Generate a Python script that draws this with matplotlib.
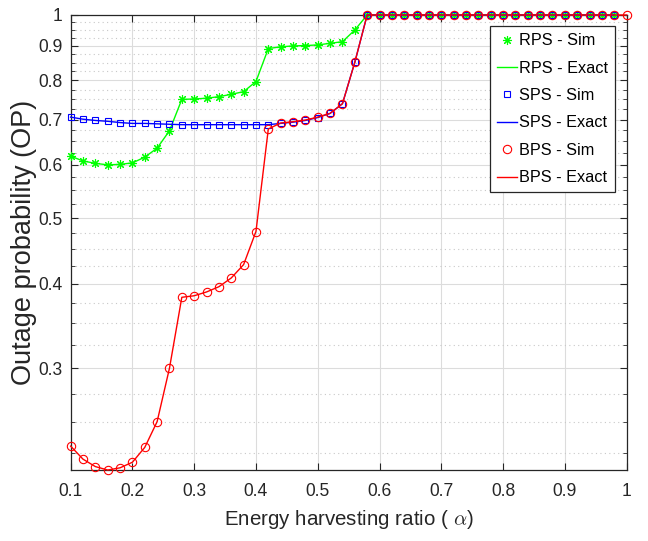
import numpy as np
import matplotlib
matplotlib.use("Agg")
import matplotlib.pyplot as plt
from matplotlib import font_manager
from matplotlib.ticker import FixedLocator, NullFormatter

# energy harvesting ratio grid
alpha = [0.10, 0.12, 0.14, 0.16, 0.18, 0.20, 0.22, 0.24, 0.26, 0.28,
         0.30, 0.32, 0.34, 0.36, 0.38, 0.40, 0.42, 0.44, 0.46, 0.48,
         0.50, 0.52, 0.54, 0.56, 0.58, 0.60, 0.62, 0.64, 0.66, 0.68,
         0.70, 0.72, 0.74, 0.76, 0.78, 0.80, 0.82, 0.84, 0.86, 0.88,
         0.90, 0.92, 0.94, 0.96, 0.98, 1.00]

op_rps = [0.618, 0.608, 0.603, 0.600, 0.601, 0.604, 0.616, 0.635, 0.674, 0.750,
          0.751, 0.753, 0.757, 0.763, 0.770, 0.797, 0.892, 0.897, 0.900, 0.901,
          0.903, 0.908, 0.913, 0.950, 1, 1, 1, 1, 1, 1,
          1, 1, 1, 1, 1, 1, 1, 1, 1, 1,
          1, 1, 1, 1, 1]

op_sps = [0.706, 0.701, 0.698, 0.696, 0.693, 0.691, 0.691, 0.690, 0.689, 0.688,
          0.688, 0.688, 0.688, 0.688, 0.688, 0.688, 0.688, 0.691, 0.694, 0.698,
          0.705, 0.715, 0.739, 0.851, 1, 1, 1, 1, 1, 1,
          1, 1, 1, 1, 1, 1, 1, 1, 1, 1,
          1, 1, 1, 1, 1]

op_bps = [0.230, 0.220, 0.2145, 0.212, 0.2136, 0.2177, 0.229, 0.250, 0.300, 0.382,
          0.384, 0.389, 0.396, 0.408, 0.427, 0.478, 0.678, 0.692, 0.695, 0.699,
          0.706, 0.715, 0.739, 0.851, 1, 1, 1, 1, 1, 1,
          1, 1, 1, 1, 1, 1, 1, 1, 1, 1,
          1, 1, 1, 1, 1, 1]

yticks = [0.3, 0.4, 0.5, 0.6, 0.7, 0.8, 0.9, 1]
ytick_labels = ["0.3", "0.4", "0.5", "0.6", "0.7", "0.8", "0.9", "1"]
xticks = [0.1, 0.2, 0.3, 0.4, 0.5, 0.6, 0.7, 0.8, 0.9, 1]
xtick_labels = ["0.1", "0.2", "0.3", "0.4", "0.5", "0.6", "0.7", "0.8", "0.9", "1"]

installed = {f.name for f in font_manager.fontManager.ttflist}
if "Liberation Sans Narrow" in installed:
    narrow, scale = "Liberation Sans Narrow", 1.0
else:
    narrow, scale = "Liberation Sans", 0.87

plt.rcParams["font.family"] = [narrow, "DejaVu Sans"]
plt.rcParams["mathtext.fontset"] = "cm"

dark = "#262626"
fig = plt.figure(figsize=(6.48, 5.41), dpi=100)
ax = fig.add_axes([0.109, 0.1312, 0.858, 0.8411])

n = len(alpha)
ast = (8, 2, 0)
ax.plot(alpha[:n - 1], op_rps, ls="none", marker=ast, ms=6.5, mew=0.8,
        color=(0, 1, 0), clip_on=False, zorder=3, label="RPS - Sim")
ax.plot(alpha[:n - 1], op_rps, color=(0, 1, 0), lw=1.0, clip_on=False,
        zorder=3, label="RPS - Exact")
ax.plot(alpha[:n - 1], op_sps, ls="none", marker="s", ms=5, mew=0.8,
        mfc="none", color=(0, 0, 1), clip_on=False, zorder=3, label="SPS - Sim")
ax.plot(alpha[:n - 1], op_sps, color=(0, 0, 1), lw=1.0, clip_on=False,
        zorder=3, label="SPS - Exact")
ax.plot(alpha, op_bps, ls="none", marker="o", ms=6, mew=0.8, mfc="none",
        color=(1, 0, 0), clip_on=False, zorder=3, label="BPS - Sim")
ax.plot(alpha, op_bps, color=(1, 0, 0), lw=1.0, clip_on=False, zorder=3,
        label="BPS - Exact")

ax.set_yscale("log")
ax.set_xlim(0.1, 1)
ax.set_ylim(min(op_bps), 1)

ax.yaxis.set_major_locator(FixedLocator(yticks))
ax.set_yticklabels(ytick_labels)
minor = [v / 1000 for v in range(225, 1000, 25) if v % 100 != 0]
ax.yaxis.set_minor_locator(FixedLocator(minor))
ax.yaxis.set_minor_formatter(NullFormatter())
ax.set_xticks(xticks)
ax.set_xticklabels(xtick_labels)

ax.grid(True, which="major", color="#dcdcdc", lw=0.8, ls="-")
ax.grid(True, which="minor", axis="y", color="#c8c8c8", lw=0.8, ls=(0, (1, 3)))
ax.set_axisbelow(True)

for s in ax.spines.values():
    s.set_color(dark)
    s.set_linewidth(0.9)
ax.tick_params(which="both", direction="in", top=True, right=True,
               colors=dark, labelcolor=dark)
ax.tick_params(which="major", length=5, labelsize=14.5 * scale)
ax.tick_params(which="minor", length=3)
ax.tick_params(axis="x", pad=9)
ax.tick_params(axis="y", pad=6)

ax.set_xlabel(r"Energy harvesting ratio ( $\alpha$)", fontsize=17 * scale,
              color=dark, labelpad=6)
ax.set_ylabel("Outage probability (OP)", fontsize=19.5, color=dark,
              family=["Liberation Sans", "DejaVu Sans"], labelpad=1)

leg = ax.legend(loc="upper right", fontsize=13.5 * scale, frameon=True,
                fancybox=False, edgecolor=dark, framealpha=1,
                handlelength=1.25, handletextpad=0.15, labelspacing=0.76,
                borderpad=0.42, borderaxespad=0.7)
leg.get_frame().set_linewidth(0.9)

fig.savefig("out.png", dpi=100)
